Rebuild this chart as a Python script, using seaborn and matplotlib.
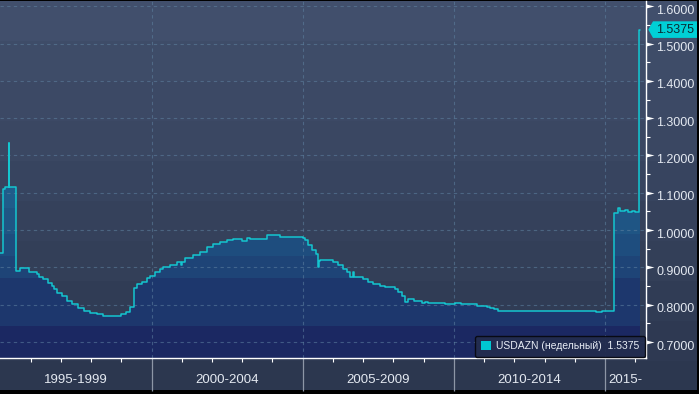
import numpy as np
import matplotlib
matplotlib.use("Agg")
import matplotlib.pyplot as plt
import matplotlib.transforms as mtransforms
from matplotlib.path import Path
from matplotlib.patches import Polygon, Patch
from matplotlib.colors import to_rgb
import seaborn as sns

# ---------------- data ----------------
years = [1995.00, 1995.09, 1995.16, 1995.29, 1995.30, 1995.52, 1995.65, 1995.95,
         1996.21, 1996.28, 1996.41, 1996.58, 1996.71, 1996.78, 1996.87, 1997.04,
         1997.20, 1997.37, 1997.57, 1997.77, 1997.97, 1998.20, 1998.39, 1998.63,
         1998.99, 1999.16, 1999.29, 1999.42, 1999.52, 1999.68, 1999.85, 1999.95,
         2000.11, 2000.28, 2000.38, 2000.61, 2000.84, 2000.97, 2001.01, 2001.11,
         2001.37, 2001.60, 2001.83, 2002.03, 2002.26, 2002.49, 2002.69, 2002.98,
         2003.15, 2003.25, 2003.81, 2004.25, 2005.01, 2005.07, 2005.17, 2005.30,
         2005.44, 2005.50, 2005.53, 2005.57, 2006.00, 2006.16, 2006.33, 2006.46,
         2006.56, 2006.66, 2006.68, 2006.99, 2007.16, 2007.32, 2007.55, 2007.72,
         2008.05, 2008.15, 2008.28, 2008.38, 2008.48, 2008.61, 2008.68, 2008.94,
         2009.04, 2009.14, 2009.70, 2010.03, 2010.23, 2010.76, 2011.09, 2011.19,
         2011.32, 2011.45, 2012.15, 2014.69, 2014.89, 2015.30, 2015.42, 2015.49,
         2015.65, 2015.75, 2015.88, 2015.98, 2016.12, 2016.16]
rates = [0.938, 1.109, 1.115, 1.234, 1.115, 0.890, 0.898, 0.887,
         0.882, 0.873, 0.868, 0.857, 0.850, 0.841, 0.831, 0.822,
         0.811, 0.802, 0.792, 0.784, 0.779, 0.775, 0.770, 0.769,
         0.774, 0.780, 0.793, 0.846, 0.855, 0.862, 0.872, 0.876,
         0.888, 0.895, 0.900, 0.907, 0.914, 0.906, 0.914, 0.924,
         0.933, 0.942, 0.956, 0.963, 0.969, 0.973, 0.976, 0.971,
         0.978, 0.976, 0.986, 0.982, 0.978, 0.973, 0.960, 0.947,
         0.936, 0.900, 0.918, 0.920, 0.915, 0.906, 0.896, 0.887,
         0.875, 0.887, 0.875, 0.869, 0.862, 0.855, 0.851, 0.847,
         0.842, 0.833, 0.822, 0.808, 0.815, 0.816, 0.810, 0.804,
         0.808, 0.804, 0.802, 0.804, 0.801, 0.797, 0.795, 0.792,
         0.788, 0.784, 0.782, 0.780, 0.782, 1.047, 1.058, 1.050,
         1.055, 1.048, 1.052, 1.049, 1.5375, 1.5375]
series_name = "USDAZN (недельный)"
period_starts = [1995, 2000, 2005, 2010, 2015]
period_labels = ["1995-1999", "2000-2004", "2005-2009", "2010-2014", "2015-"]
y_ticks = [0.70, 0.80, 0.90, 1.00, 1.10, 1.20, 1.30, 1.40, 1.50, 1.60]
y_minor = [0.75, 0.85, 0.95, 1.05, 1.15, 1.25, 1.35, 1.45, 1.55]
year_ticks = list(range(1996, 2017))

# ---------------- style ----------------
sns.set_theme(style="dark")
plt.rcParams["font.family"] = ["Liberation Sans", "DejaVu Sans"]

CYAN = "#14c6d0"
W, H = 699, 394
fig = plt.figure(figsize=(W / 100, H / 100), dpi=100, facecolor="black")

# background gradient (whole chart panel)
bg = fig.add_axes([0, 0, 1, 1], zorder=0)
bg.set_axis_off()
top_c = np.array(to_rgb("#414f6c"))
bot_c = np.array(to_rgb("#2c374f"))
rows = np.arange(389)
band = (rows // 40) / (388 // 40)
grad = top_c[None, :] * (1 - band[:, None]) + bot_c[None, :] * band[:, None]
bg.imshow(grad[:, None, :], extent=[0, 697, 390, 1], aspect="auto",
          interpolation="nearest", origin="upper")
bg.set_xlim(0, W)
bg.set_ylim(H, 0)

# main axes
ax = fig.add_axes([0, (H - 358) / H, 646 / W, 357 / H], zorder=1)
ax.set_facecolor("none")
x0, x1 = 1994.99, 2016.35
y0, y1 = 0.6571, 1.6142

fill = ax.fill_between(years, rates, y0, step="post", facecolor="none",
                       edgecolor="none")
band_edges = [0.741, 0.872, 0.931, 0.989, 1.06, 1.20]
band_colors = ["#1b2862", "#1d376d", "#1e4477", "#1e4d7e", "#1f5584",
               "#205c8a", "#21648f"]
vals = np.linspace(y0, y1, 800)
idx = np.searchsorted(band_edges, vals)
img = np.array([to_rgb(band_colors[i]) for i in idx])[:, None, :]
im = ax.imshow(img, extent=[x0, x1, y0, y1], origin="lower", aspect="auto",
               interpolation="nearest", zorder=1)
im.set_clip_path(fill.get_paths()[0], transform=ax.transData)

# dashed grid
grid_kw = dict(color="#5f83a2", alpha=0.55, lw=0.8, ls=(0, (3, 3)), zorder=2)
for yv in y_ticks:
    ax.axhline(yv, **grid_kw)
for xv in period_starts[1:]:
    ax.axvline(xv, **grid_kw)

sns.lineplot(x=years, y=rates, ax=ax, color=CYAN, lw=1.1,
             drawstyle="steps-post", legend=False, zorder=4,
             estimator=None, sort=False)

ax.set_xlim(x0, x1)
ax.set_ylim(y0, y1)
ax.set_xlabel("")
ax.set_ylabel("")

for s in ["top", "left"]:
    ax.spines[s].set_visible(False)
for s in ["bottom", "right"]:
    ax.spines[s].set_visible(True)
    ax.spines[s].set_color("white")
    ax.spines[s].set_linewidth(1.0)
    ax.spines[s].set_zorder(6)

# x axis: period separators (major) and yearly ticks (minor)
ax.set_xticks(period_starts[1:])
ax.set_xticks(year_ticks, minor=True)
ax.tick_params(axis="x", which="major", direction="out", length=23.5, width=0.9,
               color="#8d96a6", labelbottom=False, bottom=True)
ax.tick_params(axis="x", which="minor", direction="out", length=3, width=0.8,
               color="white", bottom=True)

label_y = -0.0616
xt = mtransforms.blended_transform_factory(ax.transData, ax.transAxes)
bounds = period_starts + [x1]
for i, lab in enumerate(period_labels):
    mid = (bounds[i] + bounds[i + 1]) / 2
    ax.text(mid, label_y, lab, transform=xt, ha="center", va="center",
            fontsize=9.5, color="#e4e9f1", clip_on=False)

# y axis on right
ax.yaxis.tick_right()
ax.set_yticks(y_ticks)
ax.set_yticklabels([f"{v:.4f}" for v in y_ticks])
ax.set_yticks(y_minor, minor=True)
ax.tick_params(axis="y", which="major", length=0, pad=7.5, labelsize=9,
               labelcolor="#e4e9f1", right=True, left=False)
ax.tick_params(axis="y", which="minor", length=3, width=0.8, color="white",
               direction="out", right=True, left=False)
tri = Path([(0, -0.5), (2, 0), (0, 0.5), (0, -0.5)],
           [Path.MOVETO, Path.LINETO, Path.LINETO, Path.CLOSEPOLY])
shift = mtransforms.ScaledTranslation(0, -2.2 / 72, fig.dpi_scale_trans)
for t in ax.yaxis.get_major_ticks():
    t.tick2line.set_marker(tri)
    t.tick2line.set_markersize(11.5)
    t.tick2line.set_markerfacecolor("white")
    t.tick2line.set_markeredgecolor("white")
    t.tick2line.set_markeredgewidth(0)
    t.label2.set_transform(t.label2.get_transform() + shift)

# legend
handle = Patch(facecolor="#00c8d2", edgecolor="none",
               label=f"{series_name}  {rates[-1]:.4f}")
leg = ax.legend(handles=[handle], loc="lower right", frameon=True, fancybox=True,
                fontsize=7.5, handlelength=0.95, handleheight=0.9,
                handletextpad=0.5, borderpad=0.55, borderaxespad=0.1,
                labelcolor="#e8edf5")
leg.get_frame().set_facecolor("#232d4e")
leg.get_frame().set_edgecolor("#07080f")
leg.get_frame().set_alpha(0.92)
leg.get_frame().set_linewidth(1.0)
leg.set_zorder(7)

# value tag at the right
px_r = ax.transAxes.transform((1, 0))[0]
py = ax.transData.transform((x1, rates[-1]))[1]
tip = px_r + 2.3
verts = [(tip, py), (tip + 4.7, py + 8.3), (px_r + 51, py + 8.3),
         (px_r + 51, py - 8.3), (tip + 4.7, py - 8.3)]
tag = Polygon(verts, closed=True, facecolor="#00d0d6", edgecolor="none",
              transform=mtransforms.IdentityTransform(), zorder=10)
fig.add_artist(tag)
fig.text(px_r + 29, py, f"{rates[-1]:.4f}", transform=mtransforms.IdentityTransform(),
         ha="center", va="center", fontsize=9, color="#0b2c34", zorder=11)

fig.savefig("out.png", dpi=100, facecolor="black")
